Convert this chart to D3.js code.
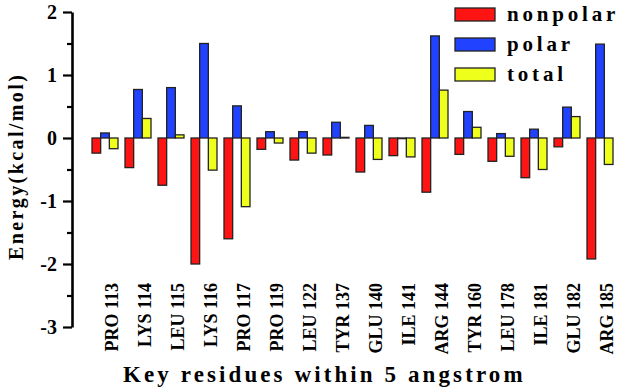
<!DOCTYPE html>
<html>
<head>
<meta charset="utf-8">
<script src="https://cdn.jsdelivr.net/npm/d3@7"></script>
<style>
  body { margin: 0; background: #fff; }
  text { font-family: "Liberation Serif", "Times New Roman", serif; font-weight: bold; fill: #000; }
</style>
</head>
<body>
<div id="chart"></div>
<script>
// residues and energies (kcal/mol)
const residues = ["PRO 113", "LYS 114", "LEU 115", "LYS 116", "PRO 117", "PRO 119", "LEU 122", "TYR 137",
    "GLU 140", "ILE 141", "ARG 144", "TYR 160", "LEU 178", "ILE 181", "GLU 182", "ARG 185"];
const nonpolar = [-0.24, -0.47, -0.75, -2.00, -1.60, -0.18, -0.35, -0.27, -0.54, -0.28, -0.86, -0.26, -0.37, -0.63, -0.14, -1.92];
const polar = [0.08, 0.77, 0.80, 1.50, 0.51, 0.10, 0.10, 0.25, 0.20, -0.01, 1.62, 0.42, 0.07, 0.14, 0.49, 1.49];
const total = [-0.17, 0.31, 0.05, -0.51, -1.09, -0.08, -0.24, 0.01, -0.34, -0.30, 0.76, 0.17, -0.29, -0.50, 0.34, -0.42];
const seriesNames = ["nonpolar", "polar", "total"];
const majorTicks = [-3, -2, -1, 0, 1, 2];
const minorTicks = [-2.5, -1.5, -0.5, 0.5, 1.5];

const width = 623;
const height = 391;
const colors = { nonpolar: "#ff1414", polar: "#2142ff", total: "#eeff1c" };

const series = { nonpolar: nonpolar, polar: polar, total: total };

const svg = d3.select("#chart").append("svg")
    .attr("width", width)
    .attr("height", height);

svg.append("rect").attr("width", width).attr("height", height).attr("fill", "#fff");

// scales
const x = d3.scaleBand()
    .domain(residues)
    .range([88.5, 616.5])
    .paddingInner(0.212)
    .paddingOuter(0.106);

const x1 = d3.scaleBand()
    .domain(seriesNames)
    .range([0, x.bandwidth()]);

const y = d3.scaleLinear()
    .domain([-3, 2])
    .range([327, 12]);

// bars
const groups = svg.append("g").selectAll("g")
    .data(residues)
    .join("g")
    .attr("transform", d => `translate(${x(d)},0)`);

groups.selectAll("rect")
    .data((d, i) => seriesNames.map(s => ({ key: s, value: series[s][i] })))
    .join("rect")
    .attr("x", d => x1(d.key))
    .attr("width", x1.bandwidth())
    .attr("y", d => y(Math.max(0, d.value)))
    .attr("height", d => Math.abs(y(d.value) - y(0)))
    .attr("fill", d => colors[d.key])
    .attr("stroke", "#222")
    .attr("stroke-width", 1.3);

// y axis (hyphen minus like the original)
const gy = svg.append("g")
    .attr("transform", "translate(72,0)")
    .call(d3.axisLeft(y).tickValues(majorTicks).tickSize(9).tickSizeOuter(0).tickPadding(6).tickFormat(d => String(d)));

gy.select(".domain").attr("stroke", "#000").attr("stroke-width", 2.6);
gy.selectAll(".tick line").attr("stroke", "#000").attr("stroke-width", 2.2);
gy.selectAll(".tick text")
    .style("font-family", "'Liberation Serif', serif")
    .style("font-weight", "bold")
    .style("font-size", "20px")
    .attr("fill", "#000");

const gyMinor = svg.append("g")
    .attr("transform", "translate(72,0)")
    .call(d3.axisLeft(y).tickValues(minorTicks).tickSize(5).tickSizeOuter(0).tickFormat(""));
gyMinor.select(".domain").remove();
gyMinor.selectAll(".tick line").attr("stroke", "#000").attr("stroke-width", 2.2);

// x tick labels (rotated)
svg.append("g").selectAll("text")
    .data(residues)
    .join("text")
    .attr("transform", d => `translate(${x(d) + x.bandwidth() / 2 + 13},283) rotate(-90)`)
    .attr("text-anchor", "end")
    .style("font-size", "18px")
    .text(d => d);

// axis titles
svg.append("text")
    .attr("transform", "translate(23,260) rotate(-90)")
    .attr("text-anchor", "start")
    .style("font-size", "20px")
    .style("letter-spacing", "2.4px")
    .text("Energy(kcal/mol)");

svg.append("text")
    .attr("x", 123)
    .attr("y", 382)
    .style("font-size", "23px")
    .style("letter-spacing", "3.1px")
    .text("Key residues within 5 angstrom");

// legend
const legend = svg.append("g").selectAll("g")
    .data(seriesNames)
    .join("g")
    .attr("transform", (d, i) => `translate(455,${8 + i * 30})`);

legend.append("rect")
    .attr("width", 40)
    .attr("height", 13)
    .attr("fill", d => colors[d])
    .attr("stroke", "#222")
    .attr("stroke-width", 1.3);

legend.append("text")
    .attr("x", 52)
    .attr("y", 12.5)
    .style("font-size", "21px")
    .style("letter-spacing", "3.8px")
    .text(d => d);
</script>
</body>
</html>
